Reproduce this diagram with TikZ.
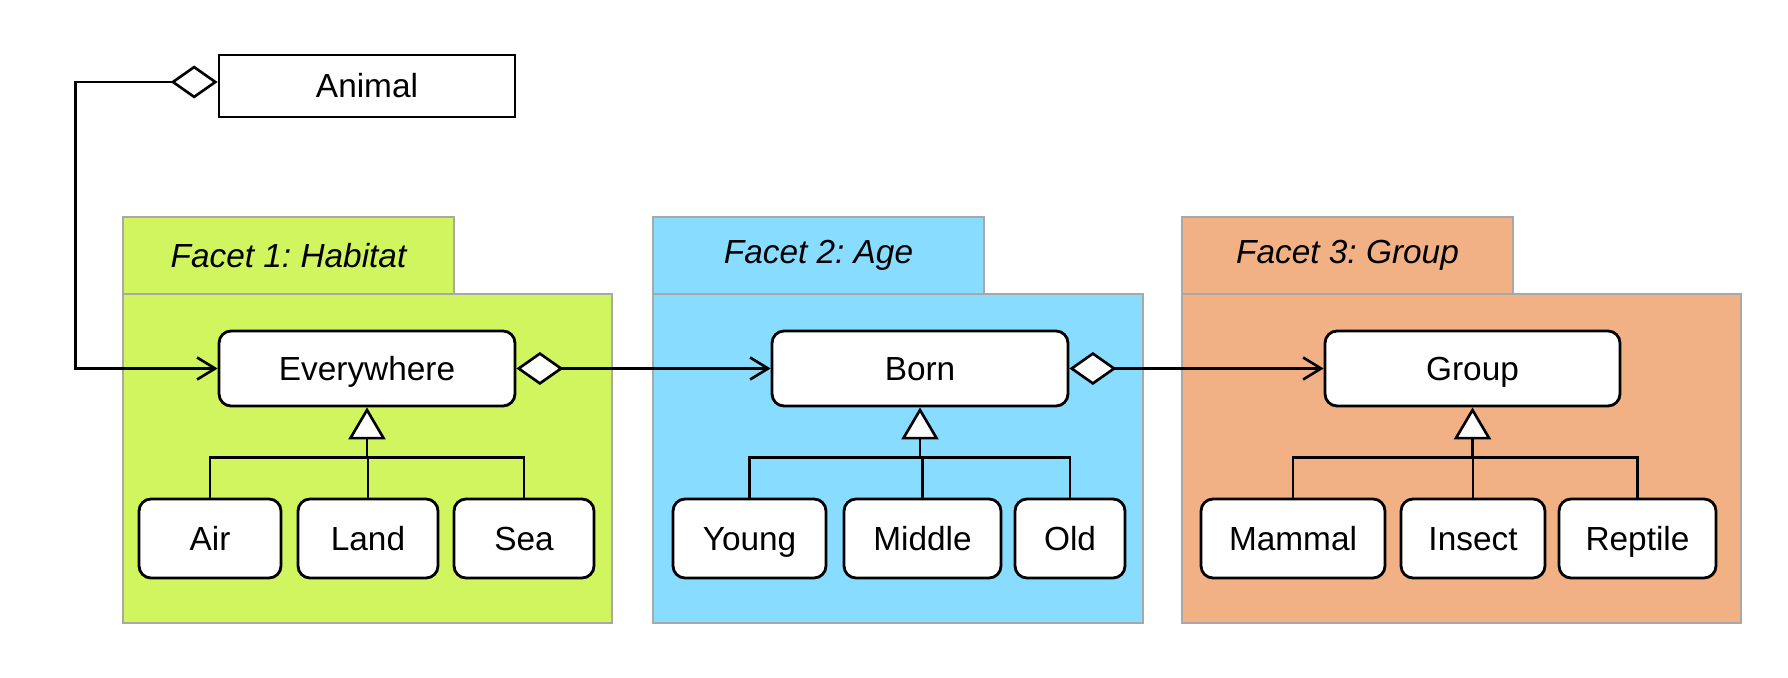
\documentclass[tikz,border=0pt]{standalone}
\usepackage{fontspec}
\setmainfont{Liberation Sans}
\usetikzlibrary{arrows.meta}
\frenchspacing

\definecolor{habitatgreen}{RGB}{208,245,95}
\definecolor{ageblue}{RGB}{135,220,255}
\definecolor{grouporange}{RGB}{242,177,133}
\definecolor{pkgborder}{RGB}{168,168,168}

\begin{document}
\begin{tikzpicture}[x=0.02cm, y=-0.02cm,
  every node/.style={font=\fontsize{19}{23}\selectfont},
  cls/.style={draw=black, fill=white, line width=1.6pt, rounded corners=0.24cm, inner sep=0pt,
    text height=13.6pt, text depth=0pt},
  plaincls/.style={cls, sharp corners},
  topbox/.style={cls, minimum width=5.92cm, minimum height=1.5cm},
  leaf/.style={cls, minimum height=1.58cm},
  pkg/.style={draw=pkgborder, line width=1.3pt},
  facet/.style={font=\fontsize{19}{23}\selectfont\itshape},
  link/.style={line width=1.5pt},
  agg/.style={link, {Diamond[fill=white, length=0.94cm, width=0.66cm]}-{Straight Barb[length=0.36cm, width=0.44cm]}},
  gen/.style={link, -{Triangle[fill=white, length=0.64cm, width=0.74cm]}}]
\useasboundingbox (0,0) rectangle (1788,678);

% packages
\filldraw[pkg, fill=habitatgreen] (123,217) rectangle (454,294);
\filldraw[pkg, fill=habitatgreen] (123,294) rectangle (612,623);
\node[facet] (habitat) at (288.5,255.5) {Facet 1: Habitat};

\filldraw[pkg, fill=ageblue] (653,217) rectangle (984,294);
\filldraw[pkg, fill=ageblue] (653,294) rectangle (1143,623);
\node[facet] (age) at (818.5,255.5) {Facet 2: Age};

\filldraw[pkg, fill=grouporange] (1182,217) rectangle (1513,294);
\filldraw[pkg, fill=grouporange] (1182,294) rectangle (1741,623);
\node[facet] (grp) at (1347.5,255.5) {Facet 3: Group};

% classes
\node[plaincls, minimum width=5.92cm, minimum height=1.24cm] (animal) at (367,86) {Animal};

\node[topbox] (everywhere) at (367,368.5) {Everywhere};
\node[leaf, minimum width=2.84cm] (air) at (210,538.5) {Air};
\node[leaf, minimum width=2.8cm] (land) at (368,538.5) {Land};
\node[leaf, minimum width=2.8cm] (sea) at (524,538.5) {Sea};

\node[topbox] (born) at (920,368.5) {Born};
\node[leaf, minimum width=3.06cm] (young) at (749.5,538.5) {Young};
\node[leaf, minimum width=3.14cm] (middle) at (922.5,538.5) {Middle};
\node[leaf, minimum width=2.2cm] (old) at (1070,538.5) {Old};

\node[topbox, minimum width=5.9cm] (group) at (1472.5,368.5) {Group};
\node[leaf, minimum width=3.68cm] (mammal) at (1293,538.5) {Mammal};
\node[leaf, minimum width=2.88cm] (insect) at (1473,538.5) {Insect};
\node[leaf, minimum width=3.14cm] (reptile) at (1637.5,538.5) {Reptile};

% aggregations
\draw[agg] ([yshift=0.08cm]animal.west) -- ++(-142,0) |- (everywhere.west);
\draw[agg] (everywhere.east) -- (born.west);
\draw[agg] (born.east) -- (group.west);

% generalizations
\coordinate (habbar) at ([yshift=-1cm]everywhere.south);
\draw[gen] (habbar) -- (everywhere.south);
\draw[link] (air.north) |- (habbar) -| (sea.north);
\draw[link] (land.north) -- (land.north |- habbar);

\coordinate (agebar) at ([yshift=-1cm]born.south);
\draw[gen] (agebar) -- (born.south);
\draw[link] (young.north) |- (agebar) -| (old.north);
\draw[link] (middle.north) -- (middle.north |- agebar);

\coordinate (grpbar) at ([yshift=-1cm]group.south);
\draw[gen] (grpbar) -- (group.south);
\draw[link] (mammal.north) |- (grpbar) -| (reptile.north);
\draw[link] (insect.north) -- (insect.north |- grpbar);
\end{tikzpicture}
\end{document}
